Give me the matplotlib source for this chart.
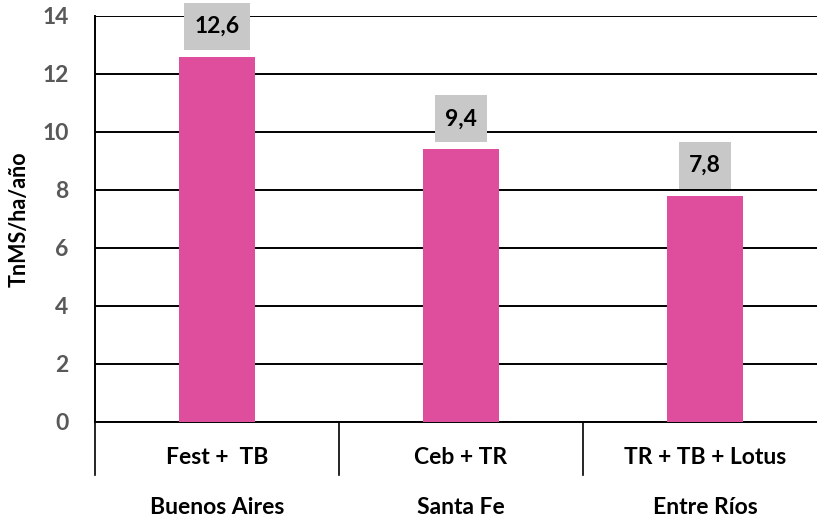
import matplotlib.pyplot as plt
from matplotlib.path import Path
from matplotlib.transforms import blended_transform_factory

plt.rcParams['font.family'] = ['Lato', 'DejaVu Sans']

cultivos = ['Fest +  TB', 'Ceb + TR', 'TR + TB + Lotus']
provincias = ['Buenos Aires', 'Santa Fe', 'Entre Ríos']
produccion = [12.6, 9.4, 7.8]
etiquetas = ['12,6', '9,4', '7,8']


def caja(x0, y0, w, h, mutation_size):
    # caja gris mas alta que ancha de margen, como en Excel
    px = 0.45 * mutation_size
    py = 0.57 * mutation_size
    x0, x1 = x0 - px, x0 + w + px
    y0, y1 = y0 - py, y0 + h + py
    return Path([(x0, y0), (x1, y0), (x1, y1), (x0, y1), (x0, y0)], closed=True)


fig = plt.figure(figsize=(8.17, 5.24), dpi=100)
ax = fig.add_axes([95 / 817, 1 - 422 / 524, 732 / 817, 406 / 524])

x = list(range(len(cultivos)))
ax.bar(x, produccion, width=0.31, color='#DF4E9C', zorder=3)

ax.set_xlim(-0.5, 2.5)
ax.set_ylim(0, 14)
ax.set_yticks(range(0, 15, 2))
ax.yaxis.grid(True, color='black', linewidth=1.4, zorder=0)
ax.set_axisbelow(True)
for lado in ['top', 'right']:
    ax.spines[lado].set_visible(False)
ax.spines['left'].set_linewidth(1.4)
ax.spines['bottom'].set_linewidth(1.4)
ax.tick_params(axis='y', length=0, pad=19, labelsize=16.5, labelcolor='#595959')
for t in ax.get_yticklabels():
    t.set_fontweight('bold')
ax.set_xticks([])

ax.set_ylabel('TnMS/ha/año', fontsize=15.5, fontweight='bold', labelpad=9)

# etiquetas de valores
for xi, v, txt in zip(x, produccion, etiquetas):
    ax.annotate(txt, (xi, v), xytext=(0, 14.4), textcoords='offset points',
                ha='center', va='bottom', fontsize=16.5, fontweight='bold',
                bbox=dict(boxstyle=caja, fc='#C8C8C8', ec='none'),
                zorder=4)

# eje de categorias en dos niveles
tr = blended_transform_factory(ax.transData, ax.transAxes)
for xs in [-0.5, 0.5, 1.5, 2.5]:
    ax.plot([xs, xs], [0, -0.13], color='black', linewidth=1.2,
            transform=tr, clip_on=False)
for xi, c in zip(x, cultivos):
    ax.text(xi, -0.087, c, transform=tr, ha='center', va='center',
            fontsize=16.5, fontweight='bold')
for xi, p in zip(x, provincias):
    ax.text(xi, -0.21, p, transform=tr, ha='center', va='center',
            fontsize=16.5, fontweight='bold')

fig.savefig('out.png', dpi=100)
